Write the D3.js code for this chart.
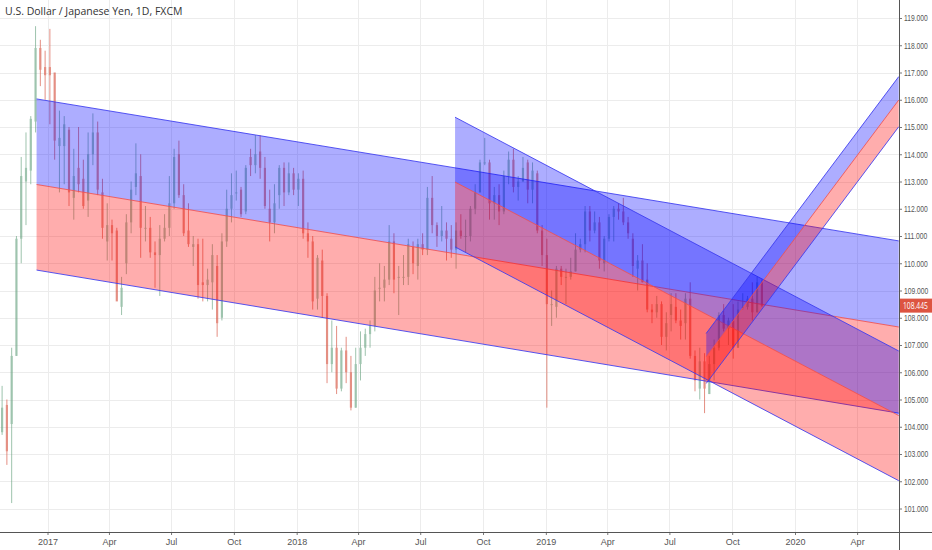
<!DOCTYPE html>
<html>
<head>
<meta charset="utf-8">
<script src="https://cdn.jsdelivr.net/npm/d3@7"></script>
<style>
  body { margin: 0; background: #fff; }
  svg { display: block; font-family: "Open Sans", "Liberation Sans", sans-serif; }
</style>
</head>
<body>
<div id="chart"></div>
<script>
// Header and last price
const title = 'U.S. Dollar / Japanese Yen, 1D, FXCM';
const lastPrice = 108.445;

// Weekly candles: [week start, open, high, low, close]
const candles2016 = [
  ['2016-10-24', 103.8, 105.5, 103.7, 104.7], ['2016-10-31', 104.8, 105.0, 102.6, 103.1],
  ['2016-11-07', 104.1, 106.9, 101.2, 106.6], ['2016-11-14', 106.6, 111.0, 106.6, 110.9],
  ['2016-11-21', 110.9, 113.9, 110.0, 113.2], ['2016-11-28', 113.0, 114.8, 111.4, 113.5],
  ['2016-12-05', 113.4, 115.4, 112.9, 115.3], ['2016-12-12', 115.2, 118.7, 114.8, 117.9],
  ['2016-12-19', 117.9, 118.2, 116.5, 117.1], ['2016-12-26', 117.2, 117.8, 116.0, 116.9]
];
const candles2017 = [
  ['2017-01-02', 117.2, 118.6, 115.1, 116.9], ['2017-01-09', 117.0, 116.9, 113.8, 114.5],
  ['2017-01-16', 114.3, 115.6, 112.6, 114.6], ['2017-01-23', 114.3, 115.4, 112.9, 115.1],
  ['2017-01-30', 114.9, 115.0, 112.1, 112.6], ['2017-02-06', 112.4, 114.2, 111.6, 113.2],
  ['2017-02-13', 113.5, 115.0, 112.6, 112.9], ['2017-02-20', 113.1, 113.8, 112.0, 112.1],
  ['2017-02-27', 112.3, 114.8, 111.7, 114.0], ['2017-03-06', 114.0, 115.5, 113.6, 114.8],
  ['2017-03-13', 114.8, 115.2, 112.5, 112.7], ['2017-03-20', 112.6, 113.1, 110.9, 111.3],
  ['2017-03-27', 110.8, 112.2, 110.1, 111.4], ['2017-04-03', 111.4, 111.6, 110.1, 111.1],
  ['2017-04-10', 111.2, 111.3, 108.7, 108.6], ['2017-04-17', 108.4, 109.5, 108.1, 109.1],
  ['2017-04-24', 110.0, 111.8, 109.6, 111.5], ['2017-05-01', 111.5, 113.0, 111.1, 112.7],
  ['2017-05-08', 112.8, 114.4, 112.5, 113.3], ['2017-05-15', 113.2, 114.0, 110.2, 111.3],
  ['2017-05-22', 111.3, 112.1, 110.8, 111.3], ['2017-05-29', 111.3, 111.7, 110.2, 110.4],
  ['2017-06-05', 110.4, 110.8, 109.1, 110.3], ['2017-06-12', 110.3, 111.4, 108.8, 110.9],
  ['2017-06-19', 110.9, 111.8, 110.8, 111.3], ['2017-06-26', 111.3, 113.2, 111.0, 112.2],
  ['2017-07-03', 112.2, 114.2, 112.0, 113.9], ['2017-07-10', 114.0, 114.5, 112.4, 112.5],
  ['2017-07-17', 112.5, 112.9, 111.0, 111.1], ['2017-07-24', 111.2, 112.2, 110.6, 110.7],
  ['2017-07-31', 110.6, 111.0, 109.9, 110.7], ['2017-08-07', 110.7, 110.9, 108.7, 109.2],
  ['2017-08-14', 109.3, 110.9, 108.6, 109.2], ['2017-08-21', 109.2, 109.8, 108.6, 109.4],
  ['2017-08-28', 109.3, 110.7, 108.3, 110.3], ['2017-09-04', 109.9, 110.3, 107.3, 107.8],
  ['2017-09-11', 108.0, 111.1, 107.9, 110.8], ['2017-09-18', 110.8, 112.7, 110.6, 112.0],
  ['2017-09-25', 112.0, 113.3, 111.5, 112.5], ['2017-10-02', 112.6, 113.4, 112.3, 112.6],
  ['2017-10-09', 112.7, 112.8, 111.7, 111.8], ['2017-10-16', 111.9, 113.6, 111.8, 113.5],
  ['2017-10-23', 113.9, 114.2, 113.2, 113.6], ['2017-10-30', 113.6, 114.7, 113.3, 114.0],
  ['2017-11-06', 114.1, 114.7, 113.1, 113.5], ['2017-11-13', 113.5, 113.9, 112.0, 112.1],
  ['2017-11-20', 112.0, 112.7, 110.8, 111.5], ['2017-11-27', 111.5, 112.9, 111.1, 112.2],
  ['2017-12-04', 112.5, 113.6, 112.0, 113.5], ['2017-12-11', 113.5, 113.7, 112.1, 112.6],
  ['2017-12-18', 112.6, 113.7, 112.5, 113.3], ['2017-12-25', 113.3, 113.5, 112.5, 112.7]
];
const candles2018 = [
  ['2018-01-01', 112.7, 113.3, 112.1, 113.1], ['2018-01-08', 113.1, 113.4, 110.9, 111.1],
  ['2018-01-15', 111.1, 111.5, 110.2, 110.8], ['2018-01-22', 110.8, 111.0, 108.3, 108.6],
  ['2018-01-29', 108.7, 110.3, 108.3, 110.2], ['2018-02-05', 110.1, 110.5, 108.0, 108.8],
  ['2018-02-12', 108.8, 108.9, 105.6, 106.3], ['2018-02-19', 106.3, 107.9, 106.0, 106.9],
  ['2018-02-26', 106.9, 107.7, 105.2, 105.4], ['2018-03-05', 105.4, 106.9, 105.3, 106.8],
  ['2018-03-12', 106.8, 107.3, 105.6, 106.0], ['2018-03-19', 106.0, 106.6, 104.6, 104.7],
  ['2018-03-26', 104.7, 106.9, 104.7, 106.3], ['2018-04-02', 106.3, 107.5, 105.7, 106.9],
  ['2018-04-09', 106.9, 107.6, 106.6, 107.4], ['2018-04-16', 107.4, 107.9, 106.9, 107.7],
  ['2018-04-23', 107.7, 109.5, 107.5, 109.0], ['2018-04-30', 109.1, 110.0, 108.6, 109.1],
  ['2018-05-07', 109.1, 109.9, 108.6, 109.4], ['2018-05-14', 109.4, 111.4, 109.2, 110.8],
  ['2018-05-21', 110.8, 111.1, 108.9, 109.4], ['2018-05-28', 109.5, 109.9, 108.1, 109.5],
  ['2018-06-04', 109.5, 110.3, 109.2, 109.5], ['2018-06-11', 109.5, 110.9, 109.2, 110.7],
  ['2018-06-18', 110.6, 110.8, 109.6, 110.0], ['2018-06-25', 109.9, 110.9, 109.4, 110.7],
  ['2018-07-02', 110.7, 111.1, 110.3, 110.5], ['2018-07-09', 110.5, 112.8, 110.3, 112.4],
  ['2018-07-16', 112.4, 113.2, 111.1, 111.4], ['2018-07-23', 111.4, 111.5, 110.6, 111.0],
  ['2018-07-30', 111.0, 112.1, 110.8, 111.2], ['2018-08-06', 111.2, 111.5, 110.1, 110.9],
  ['2018-08-13', 110.9, 111.4, 110.2, 110.5], ['2018-08-20', 110.5, 111.5, 109.8, 111.2],
  ['2018-08-27', 111.2, 111.8, 110.9, 111.0], ['2018-09-03', 111.0, 111.6, 110.4, 111.0],
  ['2018-09-10', 111.0, 112.1, 110.8, 112.0], ['2018-09-17', 112.0, 112.9, 111.8, 112.6],
  ['2018-09-24', 112.6, 113.8, 112.6, 113.7], ['2018-10-01', 113.7, 114.6, 113.6, 113.7],
  ['2018-10-08', 113.7, 113.8, 111.6, 112.2], ['2018-10-15', 112.2, 112.8, 111.6, 112.5],
  ['2018-10-22', 112.5, 112.9, 111.4, 111.9], ['2018-10-29', 111.9, 113.4, 111.8, 113.2],
  ['2018-11-05', 113.2, 114.1, 112.9, 113.8], ['2018-11-12', 113.8, 114.2, 112.6, 112.8],
  ['2018-11-19', 112.8, 113.2, 112.3, 113.0], ['2018-11-26', 113.0, 113.9, 113.0, 113.5],
  ['2018-12-03', 113.7, 113.8, 112.2, 112.7], ['2018-12-10', 112.7, 113.7, 112.2, 113.4],
  ['2018-12-17', 113.3, 113.4, 111.1, 111.2], ['2018-12-24', 111.2, 111.4, 109.9, 110.3],
  ['2018-12-31', 110.3, 110.9, 104.7, 108.5]
];
const candles2019 = [
  ['2019-01-07', 108.5, 109.0, 107.7, 108.5], ['2019-01-14', 108.4, 109.9, 108.0, 109.8],
  ['2019-01-21', 109.8, 109.9, 109.2, 109.5], ['2019-01-28', 109.5, 109.8, 108.5, 109.5],
  ['2019-02-04', 109.5, 110.2, 109.4, 109.7], ['2019-02-11', 109.7, 111.1, 109.7, 110.5],
  ['2019-02-18', 110.5, 110.9, 110.4, 110.7], ['2019-02-25', 110.7, 112.1, 110.4, 111.9],
  ['2019-03-04', 111.9, 112.1, 110.8, 111.2], ['2019-03-11', 111.2, 111.9, 111.1, 111.5],
  ['2019-03-18', 111.5, 111.7, 109.8, 110.1], ['2019-03-25', 110.0, 111.0, 109.7, 110.9],
  ['2019-04-01', 110.9, 111.8, 110.8, 111.7], ['2019-04-08', 111.7, 112.1, 110.8, 112.0],
  ['2019-04-15', 112.0, 112.2, 111.6, 111.9], ['2019-04-22', 111.9, 112.4, 111.4, 111.5],
  ['2019-04-29', 111.5, 111.7, 110.9, 111.1], ['2019-05-06', 110.9, 111.1, 109.5, 109.9],
  ['2019-05-13', 109.8, 110.3, 109.0, 110.1], ['2019-05-20', 110.1, 110.7, 109.3, 109.3],
  ['2019-05-27', 109.4, 110.0, 108.2, 108.3], ['2019-06-03', 108.3, 108.5, 107.8, 108.2],
  ['2019-06-10', 108.2, 108.8, 108.0, 108.5], ['2019-06-17', 108.5, 108.6, 107.0, 107.3],
  ['2019-06-24', 107.3, 108.2, 106.8, 107.8], ['2019-07-01', 108.1, 108.9, 107.5, 108.5],
  ['2019-07-08', 108.4, 108.9, 107.8, 107.9], ['2019-07-15', 107.9, 108.3, 107.2, 107.7],
  ['2019-07-22', 107.8, 108.9, 107.2, 108.7], ['2019-07-29', 108.7, 109.3, 106.5, 106.6],
  ['2019-08-05', 106.6, 106.8, 105.3, 105.7], ['2019-08-12', 105.4, 106.9, 105.0, 106.4],
  ['2019-08-19', 106.4, 106.7, 104.5, 105.4], ['2019-08-26', 105.2, 106.6, 105.2, 106.3],
  ['2019-09-02', 106.3, 107.2, 105.7, 106.9], ['2019-09-09', 106.9, 108.2, 106.8, 108.1],
  ['2019-09-16', 108.1, 108.5, 107.5, 107.6], ['2019-09-23', 107.6, 108.0, 107.0, 107.9],
  ['2019-09-30', 107.9, 108.5, 106.5, 106.9], ['2019-10-07', 106.9, 108.6, 106.9, 108.3],
  ['2019-10-14', 108.4, 108.9, 108.3, 108.4], ['2019-10-21', 108.4, 108.8, 108.3, 108.7],
  ['2019-10-28', 108.7, 109.3, 107.9, 108.2], ['2019-11-04', 108.2, 109.5, 108.2, 109.3],
  ['2019-11-11', 109.3, 109.4, 108.4, 108.445]
];

// Channels drawn on the chart: anchor dates, then [left, right] price of each line
const channelStart = ['2016-12-16', '2018-08-21', '2019-08-24'];
const channelEnd = ['2020-06-01', '2020-06-01', '2020-06-01'];
const channelTop = [[116.03, 110.82], [115.36, 106.78], [107.43, 116.85]];
const channelMid = [[112.89, 107.66], [112.98, 104.41], [106.57, 115.99]];
const channelBot = [[109.75, 104.50], [110.60, 102.02], [105.59, 115.01]];

// Axis ticks
const xTicks = ['2017-01-01', '2017-04-01', '2017-07-01', '2017-10-01', '2018-01-01', '2018-04-01',
  '2018-07-01', '2018-10-01', '2019-01-01', '2019-04-01', '2019-07-01', '2019-10-01',
  '2020-01-01', '2020-04-01'];
const yTicks = [101, 102, 103, 104, 105, 106, 107, 108, 109, 110, 111, 112, 113, 114, 115, 116, 117, 118, 119];

// Layout
const W = 932, H = 550;
const plotW = 899, plotH = 532;
const upColor = '#6ba583', downColor = '#d75442';
const squeeze = 0.75; // price labels are drawn horizontally condensed

const parse = d3.utcParse('%Y-%m-%d');
const candles = [...candles2016, ...candles2017, ...candles2018, ...candles2019].map(r => ({
  date: parse(r[0]), o: r[1], h: r[2], l: r[3], c: r[4]
}));

// Scales
const x = d3.scaleUtc()
  .domain([parse('2017-01-01'), parse('2020-01-01')])
  .range([47.5, 795]);
const y = d3.scaleLinear().domain([101, 119]).range([508.5, 18]);

const svg = d3.select('#chart').append('svg')
  .attr('width', W)
  .attr('height', H);

svg.append('defs').append('clipPath').attr('id', 'plot')
  .append('rect').attr('width', plotW).attr('height', plotH);

// Grid
const grid = svg.append('g');
grid.selectAll('.hg').data(yTicks).join('line')
  .attr('x1', 0).attr('x2', plotW)
  .attr('y1', d => Math.round(y(d)) + 0.5).attr('y2', d => Math.round(y(d)) + 0.5)
  .attr('stroke', '#ececec');
grid.selectAll('.vg').data(xTicks.map(parse)).join('line')
  .attr('x1', d => Math.round(x(d)) + 0.5).attr('x2', d => Math.round(x(d)) + 0.5)
  .attr('y1', 0).attr('y2', plotH)
  .attr('stroke', '#ececec');

const plot = svg.append('g').attr('clip-path', 'url(#plot)');

// Candles
const day = 86400000;
const bodyW = (x(7 * day) - x(0)) * 0.45;
const cg = plot.append('g').selectAll('g').data(candles).join('g')
  .attr('transform', d => `translate(${x(new Date(+d.date + 2.5 * day))},0)`)
  .attr('opacity', 0.65);
cg.append('line')
  .attr('y1', d => y(d.h)).attr('y2', d => y(d.l))
  .attr('stroke', d => d.c >= d.o ? upColor : downColor);
cg.append('rect')
  .attr('x', -bodyW / 2).attr('width', bodyW)
  .attr('y', d => y(Math.max(d.o, d.c)))
  .attr('height', d => Math.max(1, Math.abs(y(d.o) - y(d.c))))
  .attr('fill', d => d.c >= d.o ? upColor : downColor);

// Channels
channelStart.forEach((s, i) => {
  const x0 = x(parse(s)), x1 = x(parse(channelEnd[i]));
  const t = channelTop[i], m = channelMid[i], b = channelBot[i];
  const band = (a, c) => [[x0, y(a[0])], [x1, y(a[1])], [x1, y(c[1])], [x0, y(c[0])]];
  plot.append('polygon').attr('points', band(t, m).join(' '))
    .attr('fill', 'rgba(0,0,255,0.32)');
  plot.append('polygon').attr('points', band(m, b).join(' '))
    .attr('fill', 'rgba(255,0,0,0.32)');
  [[t, '#3a3af0'], [m, '#f05050'], [b, '#3a3af0']].forEach(([p, col]) => {
    plot.append('line')
      .attr('x1', x0).attr('y1', y(p[0]))
      .attr('x2', x1).attr('y2', y(p[1]))
      .attr('stroke', col).attr('stroke-width', 1).attr('opacity', 0.85);
  });
});

// Right price axis
const yAxis = d3.axisRight(y).tickValues(yTicks).tickFormat(d3.format('.3f')).tickSize(3).tickPadding(2);
const ya = svg.append('g').attr('transform', `translate(${plotW},0)`).call(yAxis);
ya.select('.domain').remove();
ya.selectAll('line').attr('stroke', '#777');
ya.selectAll('text').attr('fill', '#555').style('font-size', '9px')
  .attr('x', 5 / squeeze)
  .attr('transform', `scale(${squeeze},1)`);

// Bottom time axis
const fmtMonth = d3.utcFormat('%b'), fmtYear = d3.utcFormat('%Y');
const xAxis = d3.axisBottom(x).tickValues(xTicks.map(parse))
  .tickFormat(d => d.getUTCMonth() === 0 ? fmtYear(d) : fmtMonth(d))
  .tickSize(3).tickPadding(4);
const xa = svg.append('g').attr('transform', `translate(0,${plotH})`).call(xAxis);
xa.select('.domain').remove();
xa.selectAll('line').attr('stroke', '#777');
xa.selectAll('text').attr('fill', '#555').style('font-size', '9px');

// Axis lines
svg.append('line').attr('x1', 0).attr('x2', W).attr('y1', plotH + 0.5).attr('y2', plotH + 0.5)
  .attr('stroke', '#555');
svg.append('line').attr('x1', plotW + 0.5).attr('x2', plotW + 0.5).attr('y1', 0).attr('y2', H)
  .attr('stroke', '#555');

// Last price tag
const py = y(lastPrice);
svg.append('rect').attr('x', plotW + 1).attr('y', py - 7).attr('width', W - plotW - 1).attr('height', 14)
  .attr('fill', '#dd5441');
svg.append('g').attr('transform', `translate(${plotW + 4},${py + 3})`)
  .append('text')
  .attr('transform', `scale(${squeeze},1)`)
  .attr('fill', '#fff').style('font-size', '9px')
  .text(d3.format('.3f')(lastPrice));

// Title
svg.append('text').attr('x', 5).attr('y', 15)
  .attr('fill', '#333').style('font-size', '10.5px')
  .text(title);
</script>
</body>
</html>
